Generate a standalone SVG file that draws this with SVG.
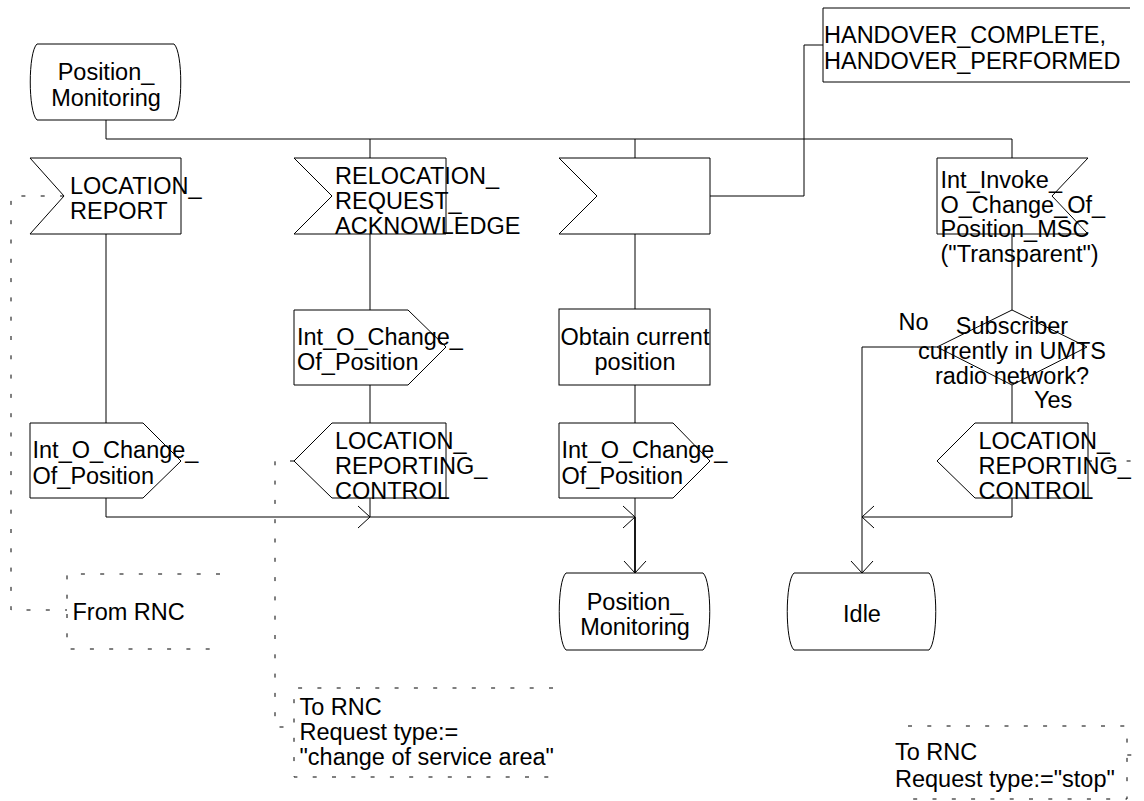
<svg xmlns="http://www.w3.org/2000/svg" width="1144" height="801" viewBox="0 0 1144 801">
  <style>
    .sym { fill: #fff; stroke: #000; stroke-width: 1; }
    .conn { fill: none; stroke: #000; stroke-width: 1; }
    .dash { fill: none; stroke: #000; stroke-width: 1; stroke-dasharray: 4 15.3; }
    text { font-family: "Liberation Sans", Arial, sans-serif; font-size: 23.5px; fill: #000; }
    .mid { text-anchor: middle; }
  </style>
  <defs>
    <marker id="arr" markerUnits="userSpaceOnUse" markerWidth="14" markerHeight="26" viewBox="-1 -12 14 24" refX="12" refY="0" orient="auto" overflow="visible">
      <path d="M0,-11 L12,0 L0,11" fill="none" stroke="#000" stroke-width="1"/>
    </marker>
  </defs>

  <!-- flow lines -->
  <g id="connectors">
    <path class="conn" d="M106,120 V139 H1012 V158"/>
    <path class="conn" d="M370,139 V158"/>
    <path class="conn" d="M635,139 V158"/>
    <!-- column 1 -->
    <path class="conn" d="M106,234 V423"/>
    <path class="conn" d="M106,498 V517 H370" marker-end="url(#arr)"/>
    <!-- column 2 -->
    <path class="conn" d="M370,234 V310"/>
    <path class="conn" d="M370,385 V423"/>
    <path class="conn" d="M370,498 V517 H635" marker-end="url(#arr)"/>
    <!-- column 3 -->
    <path class="conn" d="M635,234 V309"/>
    <path class="conn" d="M635,385 V423"/>
    <path class="conn" d="M635,498 V517"/>
    <path class="conn" style="stroke-width:1.8" d="M635,517 V573" marker-end="url(#arr)"/>
    <path class="conn" d="M710,196 H804 V45 H823"/>
    <!-- column 4 -->
    <path class="conn" d="M1012,234 V310"/>
    <path class="conn" d="M937,347 H862 V573" marker-end="url(#arr)"/>
    <path class="conn" d="M1012,385 V423"/>
    <path class="conn" d="M1012,498 V517 H862" marker-end="url(#arr)"/>
    <!-- comment attachments -->
    <path class="dash" d="M64,196 H11 V610 H67"/>
    <path class="dash" d="M294,461 H275 V727 H294"/>
    <path class="dash" d="M1088,461 H1146 V755 H1127"/>
  </g>

  <g id="state-start">
    <path class="sym" d="M37,44 H174 C183,52 183,112 174,120 H37 C28,112 28,52 37,44 Z"/>
    <text class="mid" x="106" y="80">Position_</text>
    <text class="mid" x="106" y="105.5">Monitoring</text>
  </g>

  <g id="in-location-report">
    <path class="sym" d="M30,158 H181 V234 H30 L64,196 Z"/>
    <text x="70" y="193.5">LOCATION_</text>
    <text x="70" y="218.5">REPORT</text>
  </g>

  <g id="in-relocation-ack">
    <path class="sym" d="M294,158 H446 V234 H294 L332,196 Z"/>
    <text x="335" y="183.5">RELOCATION_</text>
    <text x="335" y="208.5">REQUEST_</text>
    <text x="335" y="233.5">ACKNOWLEDGE</text>
  </g>

  <g id="in-handover">
    <path class="sym" d="M559,158 H710 V234 H559 L597,196 Z"/>
  </g>

  <g id="handover-text">
    <path class="conn" d="M1130,8 H823 V82 H1130"/>
    <text x="824" y="43">HANDOVER_COMPLETE,</text>
    <text x="824" y="69">HANDOVER_PERFORMED</text>
  </g>

  <g id="in-int-invoke">
    <path class="sym" d="M937,158 H1088 L1052,196 L1088,234 H937 Z"/>
    <text x="940.5" y="188">Int_Invoke_</text>
    <text x="940.5" y="212.5">O_Change_Of_</text>
    <text x="940.5" y="237">Position_MSC</text>
    <text x="940.5" y="261.5">("Transparent")</text>
  </g>

  <g id="out-int-change-2">
    <path class="sym" d="M294,310 H408 L446,347 L408,385 H294 Z"/>
    <text x="297" y="345">Int_O_Change_</text>
    <text x="297" y="370">Of_Position</text>
  </g>

  <g id="task-obtain">
    <rect class="sym" x="559" y="309" width="151" height="76"/>
    <text class="mid" x="635" y="345">Obtain current</text>
    <text class="mid" x="635" y="370">position</text>
  </g>

  <g id="decision-umts">
    <path class="sym" d="M1012,310 L1087,347 L1012,385 L937,347 Z"/>
    <text class="mid" x="1012" y="334">Subscriber</text>
    <text class="mid" x="1012" y="359">currently in UMTS</text>
    <text class="mid" x="1012" y="383.5">radio network?</text>
    <text x="1034" y="408">Yes</text>
    <text x="898.5" y="330">No</text>
  </g>

  <g id="out-int-change-1">
    <path class="sym" d="M30,423 H143 L181,461 L143,498 H30 Z"/>
    <text x="32.5" y="458">Int_O_Change_</text>
    <text x="32.5" y="483.5">Of_Position</text>
  </g>

  <g id="out-lrc-2">
    <path class="sym" d="M332,423 H446 V498 H332 L294,461 Z"/>
    <text x="335" y="448.5">LOCATION_</text>
    <text x="335" y="473.5">REPORTING_</text>
    <text x="335" y="498.5">CONTROL</text>
  </g>

  <g id="out-int-change-3">
    <path class="sym" d="M559,423 H673 L710,461 L673,498 H559 Z"/>
    <text x="561.5" y="458">Int_O_Change_</text>
    <text x="561.5" y="483.5">Of_Position</text>
  </g>

  <g id="out-lrc-4">
    <path class="sym" d="M975,423 H1088 V498 H975 L937,461 Z"/>
    <text x="978.5" y="448.5">LOCATION_</text>
    <text x="978.5" y="473.5">REPORTING_</text>
    <text x="978.5" y="498.5">CONTROL</text>
  </g>

  <g id="state-monitoring">
    <path class="sym" d="M566,573 H703 C712,581 712,642 703,650 H566 C557,642 557,581 566,573 Z"/>
    <text class="mid" x="635" y="609.5">Position_</text>
    <text class="mid" x="635" y="635">Monitoring</text>
  </g>

  <g id="state-idle">
    <path class="sym" d="M794,573 H929 C938,581 938,642 929,650 H794 C785,642 785,581 794,573 Z"/>
    <text class="mid" x="862" y="622">Idle</text>
  </g>

  <g id="comment-from-rnc">
    <path class="dash" d="M220,574 H67 V649 H220"/>
    <text x="72.5" y="620">From RNC</text>
  </g>

  <g id="comment-to-rnc-area">
    <path class="dash" d="M553,688 H294 V777 H553"/>
    <text x="299.5" y="715">To RNC</text>
    <text x="299.5" y="740">Request type:=</text>
    <text x="299.5" y="765">"change of service area"</text>
  </g>

  <g id="comment-to-rnc-stop">
    <path class="dash" d="M908,726 H1127 V799 H908"/>
    <text x="895" y="760">To RNC</text>
    <text x="895" y="787">Request type:="stop"</text>
  </g>
</svg>
